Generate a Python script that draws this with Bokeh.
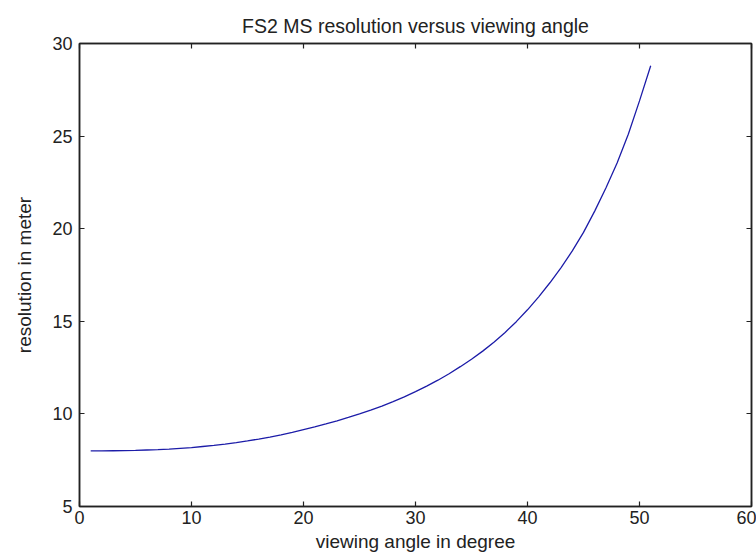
from bokeh.plotting import figure
from bokeh.models import LinearAxis, Range1d, FixedTicker, ColumnDataSource
from bokeh.embed import file_html
from bokeh.resources import INLINE

# viewing angle (degrees) and resolution (m)
angle = list(range(1, 52))
resolution = [
    8.00, 8.00, 8.01, 8.02, 8.03, 8.05, 8.07, 8.10, 8.14, 8.18,
    8.24, 8.30, 8.37, 8.45, 8.54, 8.64, 8.75, 8.87, 9.00, 9.15,
    9.30, 9.46, 9.63, 9.81, 10.00, 10.20, 10.42, 10.66, 10.92, 11.20,
    11.50, 11.82, 12.17, 12.55, 12.95, 13.39, 13.87, 14.40, 14.98, 15.62,
    16.32, 17.08, 17.90, 18.80, 19.80, 20.95, 22.20, 23.55, 25.10, 26.90,
    28.80,
]
x_ticks = [0, 10, 20, 30, 40, 50, 60]
y_ticks = [5, 10, 15, 20, 25, 30]

FONT = "Liberation Sans"
INK = "#222222"

p = figure(
    width=756, height=555,
    x_range=Range1d(0, 60), y_range=Range1d(5, 30),
    output_backend="svg", toolbar_location=None,
    min_border_left=79, min_border_right=5, min_border_top=43, min_border_bottom=49,
    x_axis_label="viewing angle in degree",
    y_axis_label="resolution in meter",
)
p.title.text = "FS2 MS resolution versus viewing angle"
p.title.align = "center"
p.title.text_font = FONT
p.title.text_font_size = "19.5px"
p.title.text_font_style = "normal"
p.title.text_color = INK
p.title.offset = 0
p.title.padding = 0
p.title.standoff = 13

src = ColumnDataSource(dict(angle=angle, resolution=resolution))
p.line("angle", "resolution", source=src, line_color="#1c1ca8", line_width=1.3)

p.xgrid.visible = False
p.ygrid.visible = False
p.outline_line_color = INK
p.outline_line_width = 1.5
p.background_fill_color = "white"
p.border_fill_color = "white"

def style(ax, ticks, show_labels, tick_standoff=7, label_standoff=6):
    ax.ticker = FixedTicker(ticks=ticks)
    ax.minor_tick_line_color = None
    ax.major_tick_in = 5
    ax.major_tick_out = 0
    ax.major_tick_line_color = INK
    ax.major_tick_line_width = 1.2
    ax.axis_line_color = INK
    ax.axis_line_width = 1.5
    ax.major_label_text_font = FONT
    ax.major_label_text_font_size = "18px"
    ax.major_label_text_color = INK
    ax.major_label_standoff = tick_standoff
    if not show_labels:
        ax.major_label_overrides = {t: "" for t in ticks}
    ax.axis_label_text_font = FONT
    ax.axis_label_text_font_size = "19px"
    ax.axis_label_text_font_style = "normal"
    ax.axis_label_text_color = INK
    ax.axis_label_standoff = label_standoff

style(p.xaxis[0], x_ticks, True, 4, 4)
style(p.yaxis[0], y_ticks, True, 7, 14)

top = LinearAxis()
style(top, x_ticks, False, 0, 0)
p.add_layout(top, "above")
right = LinearAxis()
style(right, y_ticks, False, 0, 0)
p.add_layout(right, "right")

open("out.html", "w").write(file_html(p, INLINE))
